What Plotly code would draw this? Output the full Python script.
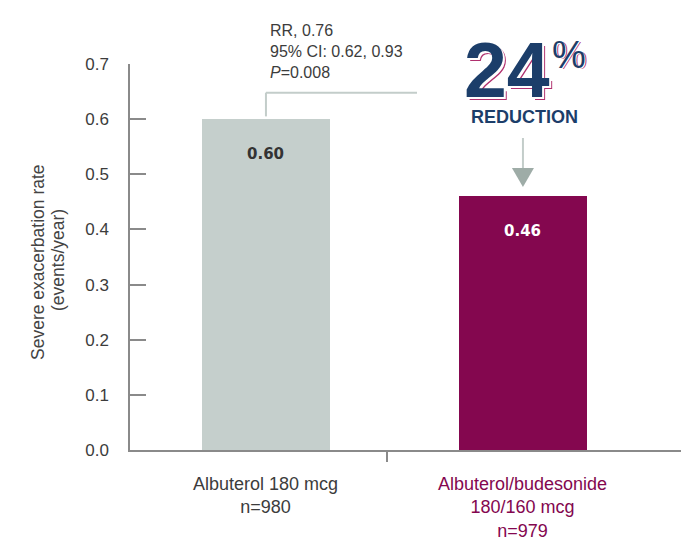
import plotly.graph_objects as go

# data
groups = ["Albuterol 180 mcg", "Albuterol/budesonide"]
group_labels = [
    "Albuterol 180 mcg<br>n=980",
    "Albuterol/budesonide<br>180/160 mcg<br>n=979",
]
rates = [0.60, 0.46]
rate_text = ["0.60", "0.46"]
y_ticks = [0.0, 0.1, 0.2, 0.3, 0.4, 0.5, 0.6, 0.7]
y_title = ["Severe exacerbation rate", "(events/year)"]
stats_text = "RR, 0.76<br>95% CI: 0.62, 0.93<br><i>P</i>=0.008"
reduction = "24"

W, H = 681, 541
L, R, T, B = 130, 0, 64, 91
X_RANGE = [-0.529, 1.615]
Y_RANGE = [0, 0.7]

bar_colors = ["#c5cfcc", "#84074f"]
label_colors = ["#333333", "#ffffff"]
cat_colors = ["#3c3c3c", "#84074f"]
navy = "#1c3e6a"
line_grey = "#c3cdca"
arrow_grey = "#9eaca7"


# pixel position -> data / paper values, used for the decorations only
def px_x(px):
    return X_RANGE[0] + (px - L) / (W - L - R) * (X_RANGE[1] - X_RANGE[0])


def px_y(px):
    return Y_RANGE[1] - (px - T) / (H - T - B) * (Y_RANGE[1] - Y_RANGE[0])


def pp_x(px):
    return (px - L) / (W - L - R)


def pp_y(px):
    return (H - B - px) / (H - T - B)


def note(px, py, text, size, color, family="Liberation Sans", **kw):
    kw.setdefault("xanchor", "center")
    kw.setdefault("yanchor", "middle")
    fig.add_annotation(
        xref="paper", yref="paper", x=pp_x(px), y=pp_y(py), text=text,
        showarrow=False, font=dict(family=family, size=size, color=color), **kw
    )


fig = go.Figure()
fig.add_trace(
    go.Bar(
        x=[0, 1],
        y=rates,
        width=0.5,
        marker=dict(color=bar_colors, line=dict(width=0)),
        hoverinfo="skip",
    )
)

# values inside the bars
for i, (v, t) in enumerate(zip(rates, rate_text)):
    fig.add_annotation(
        x=i, y=v, text=f"<b>{t}</b>", showarrow=False, yshift=-35,
        xanchor="center", yanchor="middle",
        font=dict(family="DejaVu Sans", size=15, color=label_colors[i]),
    )

# category labels under the axis
for i, lab in enumerate(group_labels):
    fig.add_annotation(
        x=i, y=0, text=lab, showarrow=False, xanchor="center", yanchor="top",
        yshift=-22, align="center",
        font=dict(family="Liberation Sans", size=18, color=cat_colors[i]),
    )

# statistics block and bracket
note(268, 20, stats_text, 16, "#3c3c3c", xanchor="left", yanchor="top",
     align="left")
top = rates[0] + 0.048
fig.add_shape(type="line", x0=0, x1=0, y0=rates[0] + 0.005, y1=top,
              line=dict(color=line_grey, width=2))
fig.add_shape(type="line", x0=0, x1=px_x(417), y0=top, y1=top,
              line=dict(color=line_grey, width=2))

# arrow above the second bar
a_top = px_y(138)
a_mid = px_y(168)
a_tip = px_y(187)
half = px_x(534) - px_x(523)
fig.add_shape(type="line", x0=1, x1=1, y0=a_top, y1=a_mid,
              line=dict(color=line_grey, width=2))
fig.add_shape(
    type="path",
    path=f"M {1 - half} {a_mid} L {1 + half} {a_mid} L 1 {a_tip} Z",
    fillcolor=arrow_grey, line=dict(width=0),
)

# big "24%" with offset outline
for d, col in [(2.5, "#b0306e"), (1.5, "#ffffff"), (0, navy)]:
    note(507, 70, f"<b>{reduction}</b>", 77, col, xshift=d, yshift=-d)
    note(569, 55, "%", 38, col, xshift=d * 0.6, yshift=-d * 0.6)
note(524, 117, "<b>REDUCTION</b>", 18, navy)

# y axis title, two lines set a little tighter than plotly's default
note(38, 262, y_title[0], 17.5, "#444444", textangle=-90)
note(58, 260, y_title[1], 17.5, "#444444", textangle=-90)

fig.update_layout(
    width=W, height=H,
    margin=dict(l=L, r=R, t=T, b=B, pad=0),
    paper_bgcolor="white", plot_bgcolor="white",
    showlegend=False,
    bargap=0,
)
fig.update_xaxes(
    range=X_RANGE, showgrid=False, zeroline=False,
    showline=True, linecolor="#8a8a8a", linewidth=1.5,
    tickvals=[0.47], ticktext=[""], ticks="outside", ticklen=10,
    tickcolor="#8a8a8a", tickwidth=1.5,
)
fig.update_yaxes(
    range=Y_RANGE, showgrid=False, zeroline=False,
    showline=True, linecolor="#8a8a8a", linewidth=1.5,
    tickvals=y_ticks, tickformat=".1f", ticks="inside", ticklen=16,
    tickcolor="#8a8a8a", tickwidth=1.5, ticklabelstandoff=16,
    tickfont=dict(family="Liberation Sans", size=17, color="#3c3c3c"),
)

fig.write_html(
    "out.html",
    config={"displayModeBar": False},
    post_script="document.body.style.margin='0';",
)
